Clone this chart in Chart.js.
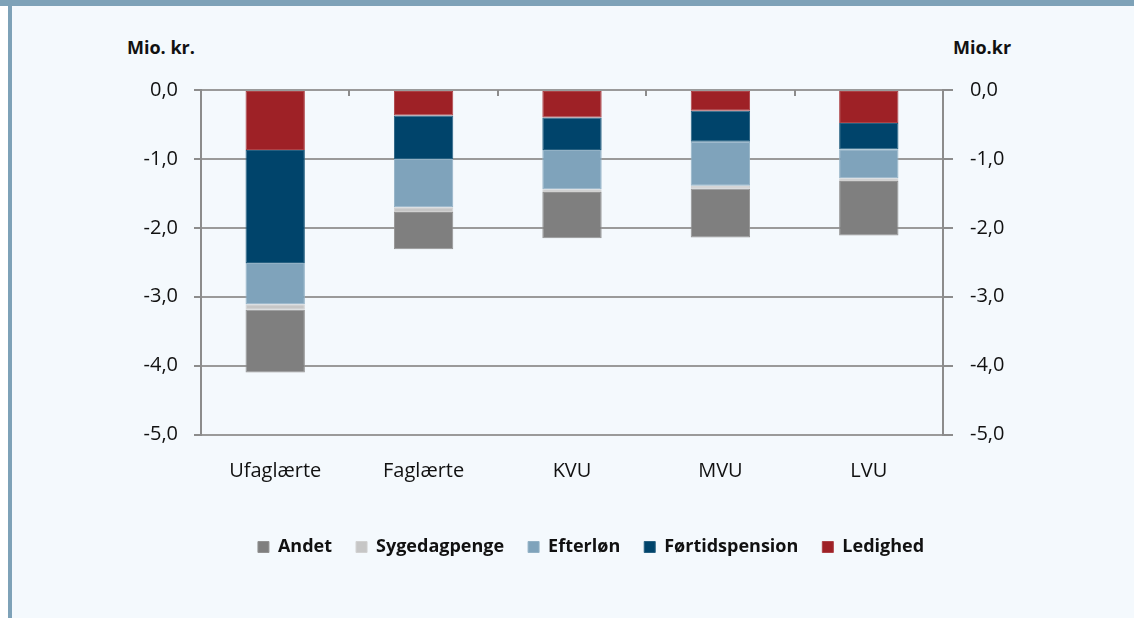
<!DOCTYPE html>
<html><head><meta charset="utf-8">
<script src="https://cdn.jsdelivr.net/npm/chart.js@4.4.0/dist/chart.umd.min.js"></script>
<style>
html,body{margin:0;padding:0;width:1134px;height:618px;overflow:hidden;background:#fff;}
#band{position:absolute;left:0;top:0;width:1134px;height:6px;background:#7ea2b8;}
#lborder{position:absolute;left:8px;top:6px;width:4px;height:612px;background:#7ea2b8;}
#panel{position:absolute;left:12px;top:6px;width:1122px;height:612px;background:#f4f9fd;}
#wrap{position:absolute;left:48px;top:6px;width:1086px;height:612px;}
.ttl{position:absolute;font-family:'Open Sans';font-weight:bold;font-size:18px;color:#111;line-height:20px;white-space:nowrap;}
</style></head>
<body>
<div id="band"></div><div id="lborder"></div><div id="panel"></div>
<div class="ttl" style="left:127px;top:37px;">Mio. kr.</div>
<div class="ttl" style="left:953px;top:37px;">Mio.kr</div>
<div id="wrap"><canvas id="c" width="1086" height="612"></canvas></div>
<script>
const categories = ['Ufaglærte','Faglærte','KVU','MVU','LVU'];
const ledighed = [-0.87,-0.37,-0.40,-0.30,-0.48];
const fortidspension = [-1.64,-0.63,-0.47,-0.45,-0.38];
const efterlon = [-0.60,-0.70,-0.57,-0.64,-0.42];
const sygedagpenge = [-0.08,-0.07,-0.04,-0.04,-0.04];
const andet = [-0.91,-0.54,-0.67,-0.71,-0.79];
const yMin = -5, yMax = 0, yStep = 1;

const fmt = v => v.toFixed(1).replace('.', ',');
const tickFont = {family:'Open Sans', size:20};

const topTicks = {
  id:'topTicks',
  afterDatasetsDraw(chart){
    const x = chart.scales.x, ctx = chart.ctx, top = chart.chartArea.top;
    ctx.save();
    ctx.strokeStyle = '#8c8c8c'; ctx.lineWidth = 2;
    for(let i=1;i<categories.length;i++){
      const px = Math.round((x.getPixelForValue(i-1)+x.getPixelForValue(i))/2);
      ctx.beginPath(); ctx.moveTo(px, top); ctx.lineTo(px, top+6); ctx.stroke();
    }
    ctx.restore();
  }
};

const mk = (label, data, color, edge) => ({label, data, backgroundColor:color, borderColor:edge, borderWidth:1, borderSkipped:false, barPercentage:0.8, categoryPercentage:0.5});

new Chart(document.getElementById('c'), {
  type:'bar',
  data:{
    labels:categories,
    datasets:[
      mk('Ledighed', ledighed, '#9e2126', '#ad4246'),
      mk('Førtidspension', fortidspension, '#00446b', '#266081'),
      mk('Efterløn', efterlon, '#7fa3bb', '#92b1c5'),
      mk('Sygedagpenge', sygedagpenge, '#c6c6c6', '#d1d1d1'),
      mk('Andet', andet, '#7f7f7f', '#929292')
    ]
  },
  options:{
    responsive:false, animation:false,
    layout:{padding:{top:84, bottom:52, left:0, right:0}},
    plugins:{
      tooltip:{enabled:false},
      legend:{
        position:'bottom', reverse:true,
        labels:{boxWidth:11, boxHeight:11, padding:24, color:'#111', font:{family:'Open Sans', size:18, weight:'bold'}}
      }
    },
    scales:{
      x:{
        stacked:true,
        grid:{display:false},
        border:{display:false},
        ticks:{color:'#111', font:tickFont, padding:16.5},
        afterFit(s){ s.height = 79.5; }
      },
      y:{
        stacked:true, min:yMin, max:yMax,
        position:'left',
        grid:{color:'#9a9a9a', lineWidth:2, tickLength:7, tickColor:'#8c8c8c'},
        border:{color:'#8c8c8c', width:2},
        ticks:{stepSize:yStep, color:'#111', font:tickFont, padding:16, callback:v=>fmt(v)},
        afterFit(s){ s.width = 153; }
      },
      y2:{
        min:yMin, max:yMax,
        position:'right',
        grid:{drawOnChartArea:false, tickLength:10, color:'#8c8c8c', lineWidth:2},
        border:{color:'#8c8c8c', width:2},
        ticks:{stepSize:yStep, color:'#111', font:tickFont, padding:17, callback:v=>fmt(v)},
        afterFit(s){ s.width = 191; }
      }
    }
  },
  plugins:[topTicks]
});
</script>
</body></html>
